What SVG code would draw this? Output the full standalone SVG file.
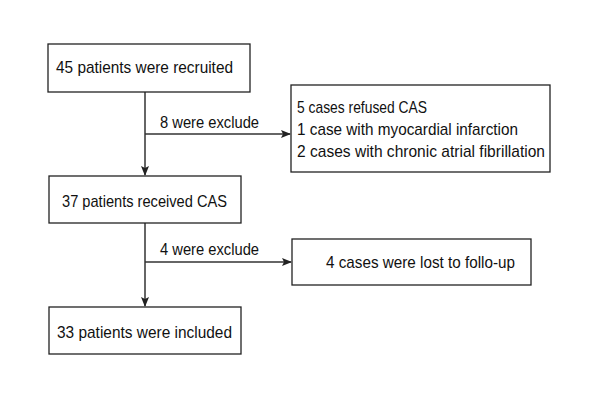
<svg xmlns="http://www.w3.org/2000/svg" width="600" height="400" viewBox="0 0 600 400">
<style>
.box{fill:#fff;stroke:#222;stroke-width:1.3}
.t{font-family:"Liberation Sans","DejaVu Sans",sans-serif;font-size:17px;fill:#111}
.ln{stroke:#333;stroke-width:1.5;fill:none}
</style>
<defs>
<marker id="ah" markerWidth="10" markerHeight="8" refX="9" refY="4" orient="auto" markerUnits="userSpaceOnUse">
<path d="M0,0 L10,4 L0,8 L2,4 Z" fill="#222"/>
</marker>
</defs>
<rect width="600" height="400" fill="#fff"/>
<g id="connectors">
<line class="ln" x1="145" y1="92" x2="145" y2="175" marker-end="url(#ah)"/>
<line class="ln" x1="145" y1="134" x2="290" y2="134" marker-end="url(#ah)"/>
<line class="ln" x1="145" y1="223" x2="145" y2="306" marker-end="url(#ah)"/>
<line class="ln" x1="145" y1="262" x2="291" y2="262" marker-end="url(#ah)"/>
<text class="t" x="160" y="128" textLength="99" lengthAdjust="spacingAndGlyphs">8 were exclude</text>
<text class="t" x="160" y="255" textLength="99" lengthAdjust="spacingAndGlyphs">4 were exclude</text>
</g>
<g id="n1">
<rect class="box" x="48" y="44" width="202" height="48"/>
<text class="t" x="56" y="73" textLength="177" lengthAdjust="spacingAndGlyphs">45 patients were recruited</text>
</g>
<g id="n2">
<rect class="box" x="291" y="85" width="259" height="87"/>
<text class="t" x="297" y="113" textLength="130" lengthAdjust="spacingAndGlyphs">5 cases refused CAS</text>
<text class="t" x="297" y="135" textLength="221" lengthAdjust="spacingAndGlyphs">1 case with myocardial infarction</text>
<text class="t" x="297" y="157" textLength="248" lengthAdjust="spacingAndGlyphs">2 cases with chronic atrial fibrillation</text>
</g>
<g id="n3">
<rect class="box" x="49" y="176" width="192" height="47"/>
<text class="t" x="62" y="207" textLength="165" lengthAdjust="spacingAndGlyphs">37 patients received CAS</text>
</g>
<g id="n4">
<rect class="box" x="292" y="239" width="239" height="46"/>
<text class="t" x="326" y="268" textLength="189" lengthAdjust="spacingAndGlyphs">4 cases were lost to follo-up</text>
</g>
<g id="n5">
<rect class="box" x="49" y="307" width="192" height="47"/>
<text class="t" x="57" y="338" textLength="175" lengthAdjust="spacingAndGlyphs">33 patients were included</text>
</g>
</svg>
